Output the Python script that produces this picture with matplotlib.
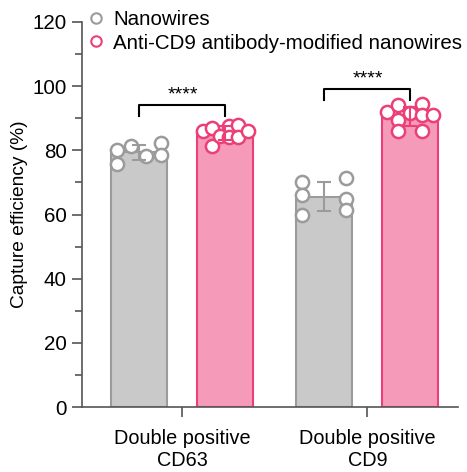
import numpy as np
import matplotlib
matplotlib.use("Agg")
import matplotlib.pyplot as plt
from matplotlib.lines import Line2D

plt.rcParams['font.family'] = ['Liberation Sans', 'DejaVu Sans']

# datos
categorias = ["Double positive\nCD63", "Double positive\nCD9"]
series = ["Nanowires", "Anti-CD9 antibody-modified nanowires"]
nanowires_cd63 = [80.0, 75.6, 81.4, 78.2, 82.3, 78.5]
anti_cd63 = [86.0, 87.0, 81.5, 84.5, 87.5, 84.0, 88.0, 84.0, 86.0]
nanowires_cd9 = [70.0, 66.0, 60.0, 71.5, 64.7, 61.3]
anti_cd9 = [92.0, 94.0, 89.5, 86.0, 91.5, 94.5, 91.0, 86.0, 91.0]
significancia = ["****", "****"]

# desplazamiento horizontal de los puntos (px)
jit_g1 = [-22, -22, -8, 7, 22, 22]
jit_p1 = [-22, -13, -13, -5, 4, 4, 13, 13, 23]
jit_g2 = [-22, -22, -22, 22, 22, 22]
jit_p2 = [-23, -12, -12, -12, 0, 12, 12, 12, 23]

PX = 185.0  # px por unidad en x
gris_fill, gris_edge = "#c9c9c9", "#9b9b9b"
rosa_fill, rosa_edge = "#f59bb9", "#ec3f78"

fig = plt.figure(figsize=(4.67, 4.72), dpi=100)
ax = fig.add_axes([0.1756, 0.1377, 0.981 - 0.1756, 0.9534 - 0.1377])

grupos = [(nanowires_cd63, anti_cd63, jit_g1, jit_p1),
          (nanowires_cd9, anti_cd9, jit_g2, jit_p2)]
off = 43 / PX
ancho = 56 / PX

for i, (g, p, jg, jp) in enumerate(grupos):
    for vals, jit, dx, fc, ec in [(g, jg, -off, gris_fill, gris_edge),
                                  (p, jp, off, rosa_fill, rosa_edge)]:
        vals = np.array(vals)
        x = i + dx
        ax.bar(x, vals.mean(), width=ancho, color=fc, edgecolor=ec, linewidth=1.5, zorder=2)
        xs = x + np.array(jit) / PX
        ax.plot(xs, vals, 'o', ms=9.5, mfc='white', mec=ec, mew=1.8, ls='none', zorder=3)
        ax.errorbar(x, vals.mean(), yerr=vals.std(ddof=1), color=ec, capsize=5,
                    elinewidth=1.5, capthick=1.5, zorder=4)

# corchetes de significancia
alturas = [94, 99]
for i, h in enumerate(alturas):
    x0, x1 = i - off, i + off
    ax.plot([x0, x0, x1, x1], [h - 3.3, h, h, h - 3.3], color='black', lw=1.5, zorder=5)
    ax.text(i, h + 0.6, significancia[i], ha='center', va='bottom', fontsize=14)

ax.set_xlim(-0.543, 1.49)
ax.set_ylim(0, 120)
ax.set_yticks(np.arange(0, 121, 20))
ax.set_yticks(np.arange(10, 120, 20), minor=True)
ax.set_xticks([0, 1])
ax.set_xticklabels(categorias, fontsize=14.3, linespacing=1.2)
ax.tick_params(axis='y', labelsize=14.8, length=7, width=1.2, color='#555555', pad=4)
ax.tick_params(axis='y', which='minor', length=5, width=1.2, color='#555555')
ax.tick_params(axis='x', length=7, width=1.2, color='#555555', pad=9)
ax.set_ylabel("Capture efficiency (%)", fontsize=13.8, labelpad=3)

for s in ['top', 'right']:
    ax.spines[s].set_visible(False)
for s in ['left', 'bottom']:
    ax.spines[s].set_color('#555555')
    ax.spines[s].set_linewidth(1.2)

handles = [Line2D([], [], marker='o', ls='none', ms=7.5, mfc='white', mec=gris_edge, mew=1.5),
           Line2D([], [], marker='o', ls='none', ms=7.5, mfc='white', mec=rosa_edge, mew=1.5)]
ax.legend(handles, series, loc='upper left', bbox_to_anchor=(0.015, 1.03), frameon=False,
          fontsize=14.8, handlelength=0.8, handletextpad=0.45, labelspacing=0.2,
          borderpad=0, borderaxespad=0)

fig.savefig("out.png", dpi=100)
